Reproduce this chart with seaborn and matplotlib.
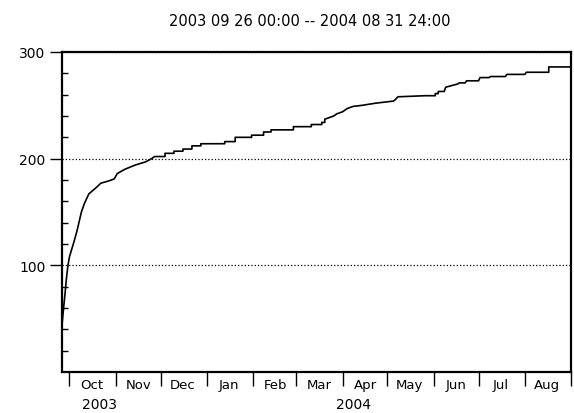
import pandas as pd
import matplotlib
matplotlib.use("Agg")
import matplotlib.pyplot as plt
import matplotlib.dates as mdates
import seaborn as sns

# cumulative count; repeated dates are the step corners
dates = [
    "2003-09-26", "2003-09-27", "2003-09-28", "2003-09-29", "2003-09-30",
    "2003-10-01", "2003-10-04", "2003-10-06", "2003-10-09", "2003-10-11",
    "2003-10-14", "2003-10-19", "2003-10-22", "2003-10-27", "2003-10-31",
    "2003-11-02", "2003-11-07", "2003-11-14", "2003-11-21", "2003-11-25",
    "2003-11-27", "2003-12-04", "2003-12-04", "2003-12-10", "2003-12-10",
    "2003-12-16", "2003-12-16", "2003-12-22", "2003-12-22",
    "2003-12-28", "2003-12-28", "2004-01-13", "2004-01-13",
    "2004-01-20", "2004-01-20", "2004-01-31", "2004-01-31",
    "2004-02-08", "2004-02-08", "2004-02-13", "2004-02-13",
    "2004-02-28", "2004-02-28", "2004-03-11", "2004-03-11",
    "2004-03-18", "2004-03-18", "2004-03-20", "2004-03-20",
    "2004-03-26", "2004-03-28", "2004-04-01", "2004-04-04", "2004-04-08",
    "2004-04-14", "2004-04-23", "2004-05-05", "2004-05-06", "2004-05-08",
    "2004-05-26", "2004-05-26", "2004-06-02", "2004-06-02",
    "2004-06-04", "2004-06-04", "2004-06-08", "2004-06-09",
    "2004-06-17", "2004-06-18", "2004-06-22", "2004-06-23",
    "2004-07-01", "2004-07-02", "2004-07-08", "2004-07-09",
    "2004-07-19", "2004-07-20", "2004-08-01", "2004-08-02",
    "2004-08-17", "2004-08-17", "2004-09-01",
]
counts = [
    44, 59, 73, 88, 100,
    108, 122, 132, 150, 158,
    167, 173, 177, 179, 181,
    186, 190, 194, 197, 200,
    202, 202, 205, 205, 207,
    207, 209, 209, 212,
    212, 214, 214, 216,
    216, 220, 220, 222,
    222, 225, 225, 227,
    227, 230, 230, 232,
    232, 234, 234, 237,
    240, 242, 244, 247, 249,
    250, 252, 254, 255, 258,
    259, 259, 259, 261,
    261, 263, 263, 267,
    270, 271, 271, 273,
    273, 276, 276, 277,
    277, 279, 279, 281,
    281, 286, 286,
]

title = "2003 09 26 00:00 -- 2004 08 31 24:00"
x_start, x_end = "2003-09-26", "2004-09-01"
year_labels = ["2003", "2004"]
year_pos = ["2003-10-21", "2004-04-08"]

df = pd.DataFrame({"date": pd.to_datetime(dates), "count": counts})

sns.set_style("ticks")
plt.rcParams["font.family"] = ["DejaVu Sans"]
plt.rcParams["text.color"] = "black"
plt.rcParams["xtick.color"] = "black"
plt.rcParams["ytick.color"] = "black"

fig = plt.figure(figsize=(5.74, 4.14), dpi=100)
ax = fig.add_axes([0.108, 0.099, 0.887, 0.773])

sns.lineplot(data=df, x="date", y="count", color="black", linewidth=1.2,
             sort=False, estimator=None, ax=ax)

ax.set_xlim(pd.Timestamp(x_start), pd.Timestamp(x_end))
ax.set_ylim(0, 300)
ax.set_xlabel("")
ax.set_ylabel("")

# y axis: labelled majors outward, minors inward
ax.set_yticks([100, 200, 300])
ax.set_yticks(range(20, 300, 20), minor=True)
ax.tick_params(axis="y", which="major", direction="out", length=9, width=1,
               labelsize=10, pad=3, color="black", labelcolor="black")
ax.tick_params(axis="y", which="minor", direction="in", length=4, width=1,
               color="black")
ax.yaxis.grid(True, which="major", linestyle=":", color="black", linewidth=0.9)

# x axis: month boundary ticks, month names in the middle of each month
ax.xaxis.set_major_locator(mdates.MonthLocator())
ax.xaxis.set_major_formatter(plt.NullFormatter())
ax.xaxis.set_minor_locator(mdates.MonthLocator(bymonthday=16))
ax.xaxis.set_minor_formatter(mdates.DateFormatter("%b"))
ax.tick_params(axis="x", which="major", direction="out", length=10, width=1,
               color="black")
ax.tick_params(axis="x", which="minor", length=0, labelsize=9.5, pad=4,
               labelcolor="black")

for lab, pos in zip(year_labels, year_pos):
    ax.text(mdates.date2num(pd.Timestamp(pos)), -0.1, lab,
            transform=ax.get_xaxis_transform(), ha="center", va="center",
            fontsize=10, color="black")

for s in ax.spines.values():
    s.set_linewidth(1.6)
    s.set_color("black")

fig.text(0.54, 0.947, title, ha="center", va="center", fontsize=10.5,
         color="black")

fig.savefig("out.png", dpi=100)
